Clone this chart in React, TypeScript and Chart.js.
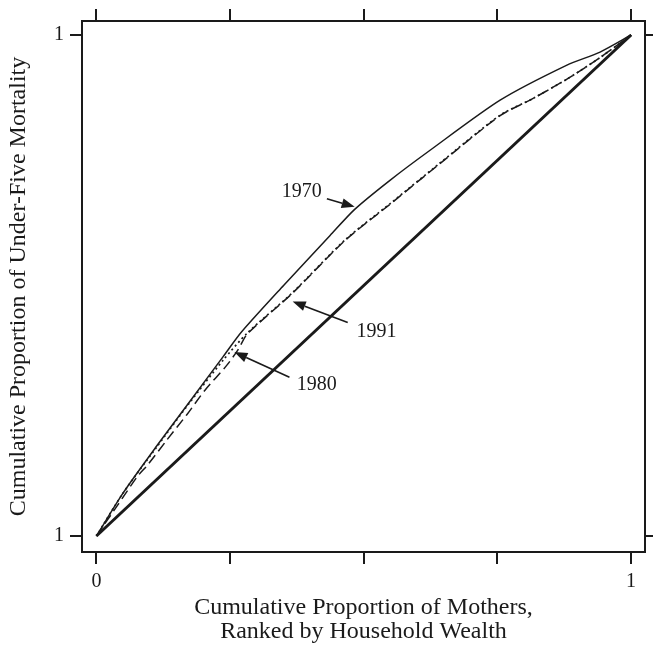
import React, { useEffect, useRef } from 'react';
import { Chart, registerables } from 'chart.js';

Chart.register(...registerables);

// ---- tick labels ----
const xTickValues = [0, 0.25, 0.5, 0.75, 1];
const xTickLabels = ['0', '', '', '', '1'];
const yTickValues = [0, 1];
const yTickLabels = ['1', '1'];

// ---- series ----
const equalityX = [0, 1];
const equalityY = [0, 1];

const x1970 = [0, 0.05, 0.113, 0.175, 0.237, 0.272, 0.35, 0.437, 0.483, 0.549, 0.624, 0.755, 0.88, 0.942, 1];
const y1970 = [0, 0.086, 0.18, 0.269, 0.358, 0.408, 0.5, 0.6, 0.652, 0.71, 0.77, 0.87, 0.94, 0.966, 1];

const x1980 = [0, 0.04, 0.076, 0.096, 0.132, 0.169, 0.203, 0.244, 0.265, 0.282, 0.366, 0.465, 0.55, 0.642, 0.755, 0.816, 0.88, 0.942, 1];
const y1980 = [0, 0.062, 0.118, 0.142, 0.192, 0.242, 0.291, 0.341, 0.372, 0.403, 0.484, 0.59, 0.663, 0.743, 0.839, 0.873, 0.912, 0.955, 1];

const x1991 = [0, 0.05, 0.113, 0.175, 0.237, 0.282, 0.366, 0.465, 0.55, 0.642, 0.755, 0.816, 0.88, 0.942, 1];
const y1991 = [0, 0.086, 0.178, 0.267, 0.351, 0.405, 0.485, 0.591, 0.664, 0.744, 0.84, 0.873, 0.912, 0.955, 1];

// ---- annotation labels (data coordinates) ----
const labelTexts = ['1970', '1991', '1980'];
const labelPos = [[0.384, 0.687], [0.524, 0.408], [0.412, 0.301]];
const arrowFrom = [[0.431, 0.673], [0.47, 0.426], [0.361, 0.317]];
const arrowTo = [[0.483, 0.657], [0.367, 0.468], [0.258, 0.367]];

const INK = '#1a1a1a';
const SERIF = '"Liberation Serif", "Times New Roman", serif';

const toPts = (xs: number[], ys: number[]) => xs.map((x, i) => ({ x, y: ys[i] }));

const annotationPlugin = {
  id: 'arrowLabels',
  afterDatasetsDraw(chart: any) {
    const { ctx, scales } = chart;
    const xs = scales.x;
    const ys = scales.y;
    ctx.save();
    ctx.fillStyle = INK;
    ctx.strokeStyle = INK;
    ctx.font = `20px ${SERIF}`;
    ctx.textAlign = 'center';
    ctx.textBaseline = 'middle';
    labelTexts.forEach((t, i) => {
      ctx.fillText(t, xs.getPixelForValue(labelPos[i][0]), ys.getPixelForValue(labelPos[i][1]));
      const x1 = xs.getPixelForValue(arrowFrom[i][0]);
      const y1 = ys.getPixelForValue(arrowFrom[i][1]);
      const x2 = xs.getPixelForValue(arrowTo[i][0]);
      const y2 = ys.getPixelForValue(arrowTo[i][1]);
      const ang = Math.atan2(y2 - y1, x2 - x1);
      const hl = 13;
      const hw = 5;
      const bx = x2 - hl * Math.cos(ang);
      const by = y2 - hl * Math.sin(ang);
      ctx.lineWidth = 1.6;
      ctx.beginPath();
      ctx.moveTo(x1, y1);
      ctx.lineTo(bx, by);
      ctx.stroke();
      ctx.beginPath();
      ctx.moveTo(x2, y2);
      ctx.lineTo(bx + hw * Math.sin(ang), by - hw * Math.cos(ang));
      ctx.lineTo(bx - hw * Math.sin(ang), by + hw * Math.cos(ang));
      ctx.closePath();
      ctx.fill();
    });
    ctx.restore();
  },
};

const whiteBg = {
  id: 'whiteBg',
  beforeDraw(chart: any) {
    const { ctx, width, height } = chart;
    ctx.save();
    ctx.fillStyle = '#ffffff';
    ctx.fillRect(0, 0, width, height);
    ctx.restore();
  },
};

export default function App() {
  const ref = useRef<HTMLCanvasElement | null>(null);

  useEffect(() => {
    if (!ref.current) return;
    const gridCommon = {
      display: true,
      drawOnChartArea: false,
      drawTicks: true,
      color: INK,
      lineWidth: 2,
    };
    const borderCommon = { display: true, color: INK, width: 2 };
    const chart = new Chart(ref.current, {
      type: 'line',
      data: {
        datasets: [
          {
            label: 'Equality',
            data: toPts(equalityX, equalityY),
            borderColor: INK,
            borderWidth: 3,
            pointRadius: 0,
            tension: 0,
          },
          {
            label: '1970',
            data: toPts(x1970, y1970),
            borderColor: INK,
            borderWidth: 1.5,
            pointRadius: 0,
            tension: 0.25,
          },
          {
            label: '1980',
            data: toPts(x1980, y1980),
            borderColor: INK,
            borderWidth: 1.5,
            borderDash: [10, 5],
            pointRadius: 0,
            tension: 0.25,
          },
          {
            label: '1991',
            data: toPts(x1991, y1991),
            borderColor: INK,
            borderWidth: 1.7,
            borderDash: [2, 3],
            pointRadius: 0,
            tension: 0.25,
          },
        ],
      },
      options: {
        animation: false,
        responsive: true,
        maintainAspectRatio: false,
        layout: { padding: 0 },
        plugins: {
          legend: { display: false },
          tooltip: { enabled: false },
        },
        scales: {
          x: {
            type: 'linear',
            position: 'bottom',
            min: -0.027,
            max: 1.026,
            afterBuildTicks: (s: any) => {
              s.ticks = xTickValues.map((v) => ({ value: v }));
            },
            afterFit: (s: any) => {
              s.height = 94;
            },
            grid: { ...gridCommon, tickLength: 12 },
            border: borderCommon,
            ticks: {
              autoSkip: false,
              maxRotation: 0,
              padding: 6,
              color: INK,
              font: { family: SERIF, size: 20 },
              callback: (_v: any, i: number) => xTickLabels[i],
            },
            title: {
              display: true,
              text: ['Cumulative Proportion of Mothers,', 'Ranked by Household Wealth'],
              color: INK,
              font: { family: SERIF, size: 24, lineHeight: 1.0 },
              padding: { top: 0, bottom: 2 },
            },
          },
          xTop: {
            type: 'linear',
            position: 'top',
            min: -0.027,
            max: 1.026,
            afterBuildTicks: (s: any) => {
              s.ticks = xTickValues.map((v) => ({ value: v }));
            },
            afterFit: (s: any) => {
              s.height = 21;
            },
            grid: { ...gridCommon, tickLength: 12 },
            border: borderCommon,
            ticks: { display: false },
          },
          y: {
            type: 'linear',
            position: 'left',
            min: -0.032,
            max: 1.028,
            afterBuildTicks: (s: any) => {
              s.ticks = yTickValues.map((v) => ({ value: v }));
            },
            afterFit: (s: any) => {
              s.width = 82;
            },
            grid: { ...gridCommon, tickLength: 12 },
            border: borderCommon,
            ticks: {
              autoSkip: false,
              padding: 6,
              color: INK,
              font: { family: SERIF, size: 20 },
              callback: (_v: any, i: number) => yTickLabels[i],
            },
            title: {
              display: true,
              text: 'Cumulative Proportion of Under-Five Mortality',
              color: INK,
              font: { family: SERIF, size: 24, lineHeight: 1.2 },
              padding: { top: 4, bottom: 0 },
            },
          },
          yRight: {
            type: 'linear',
            position: 'right',
            min: -0.032,
            max: 1.028,
            afterBuildTicks: (s: any) => {
              s.ticks = yTickValues.map((v) => ({ value: v }));
            },
            afterFit: (s: any) => {
              s.width = 8;
            },
            grid: { ...gridCommon, tickLength: 8 },
            border: borderCommon,
            ticks: { display: false },
          },
        },
      } as any,
      plugins: [whiteBg, annotationPlugin],
    });
    return () => chart.destroy();
  }, []);

  return (
    <div style={{ position: 'fixed', left: 0, top: 0, width: 653, height: 646, background: '#fff' }}>
      <canvas ref={ref} />
    </div>
  );
}
